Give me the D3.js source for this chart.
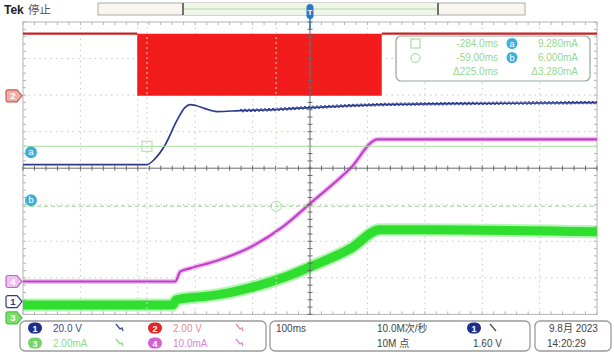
<!DOCTYPE html>
<html><head><meta charset="utf-8">
<script src="https://cdn.jsdelivr.net/npm/d3@7"></script>
<style>
html,body{margin:0;padding:0;background:#fff;}
svg{display:block;font-family:"Liberation Sans","DejaVu Sans",Arial,sans-serif;}
</style></head><body>
<svg id="scope" width="614" height="358"></svg>
<script>
// ---- acquisition data (time in ms relative to trigger) ----
const ch1Time  = [-500,-284,-270,-253,-232,-218,-209,-199,-183,-162,-122,-64,0,122,244,500];
const ch1Volts = [75.0,75.0,78.2,85.4,99.0,106.2,107.8,107.3,105.6,104.0,104.5,105.1,106.2,107.8,108.3,108.9];

// CH2: gate drive, high level with a dense PWM burst
const ch2High = 3.4;               // V
const ch2Burst = [-301, 125];      // ms, start / end of switching burst
const ch2Idle = [[-500,-301],[125,500]];

const ch3Time = [-500,-239,-233,-192,-162,-105,-47,0,70,122,192,500];
const ch3mA   = [0.60,0.60,0.88,1.04,1.15,1.53,2.08,2.68,3.67,4.71,4.71,4.60];

const ch4Time = [-500,-235,-226,-209,-162,-105,-47,0,70,118,500];
const ch4mA   = [0,0,2.7,3.6,5.7,9.3,15.0,21.3,30.9,38.9,38.9];

// cursors (time cursors in ms, level cursors on CH3 in mA)
const cursorTimes  = [-284, -59];
const cursorLevels = [9.28, 6.0];

// vertical settings per channel: volts-or-amps per division, zero position in divisions
const chScale  = [20, 2, 2, 10];
const chUnit   = ["V", "V", "mA", "mA"];
const chOffset = [-3.65, 1.98, -4.04, -3.10];

const timePerDiv = 100;           // ms
const sampleRate = "10.0M次/秒";
const recordLen  = "10M 点";
const trigLevel  = 1.60;
const dateText = "9.8月 2023", timeText = "14:20:29";

// ---- layout ----
const svg = d3.select("#scope");
const L = 23, R = 597, T = 22, B = 314.4;
const x = d3.scaleLinear().domain([-5*timePerDiv, 5*timePerDiv]).range([L, R]);
const yDiv = d3.scaleLinear().domain([-4, 4]).range([B, T]);
const yCh = i => v => yDiv(chOffset[i] + v / chScale[i]);
const y1 = yCh(0), y2 = yCh(1), y3 = yCh(2), y4 = yCh(3);

// ---- top bar ----
svg.append("text").attr("x", 4).attr("y", 14).attr("font-size", 12).attr("font-weight", "bold")
  .attr("fill", "#222").text("Tek");
svg.append("text").attr("x", 28).attr("y", 14).attr("font-size", 11.5).attr("fill", "#555")
  .attr("font-family", "Noto Sans CJK SC").text("停止");
svg.append("rect").attr("x", 98).attr("y", 3).attr("width", 427).attr("height", 12)
  .attr("fill", "#f8f6ee").attr("stroke", "#aaa");
svg.append("rect").attr("x", 183).attr("y", 3).attr("width", 255).attr("height", 12)
  .attr("fill", "#eef6e8").attr("stroke", "none");
svg.append("line").attr("x1", 184).attr("x2", 437).attr("y1", 9).attr("y2", 9)
  .attr("stroke", "#b8d8a8").attr("stroke-width", 1);
[183, 438].forEach(px => svg.append("line").attr("x1", px).attr("x2", px).attr("y1", 3).attr("y2", 15)
  .attr("stroke", "#444").attr("stroke-width", 1.5));

// ---- graticule ----
const g = svg.append("g");
g.append("rect").attr("x", L).attr("y", T).attr("width", R - L).attr("height", B - T)
  .attr("fill", "#fff").attr("stroke", "#b4b4b4");
const grid = g.append("g").attr("stroke", "#c6c6c6").attr("stroke-dasharray", "1.5,4");
d3.range(-4, 5).filter(d => d !== 0).forEach(d => {
  grid.append("line").attr("x1", x(d * timePerDiv)).attr("x2", x(d * timePerDiv)).attr("y1", T).attr("y2", B);
});
d3.range(-3, 4).filter(d => d !== 0).forEach(d => {
  grid.append("line").attr("x1", L).attr("x2", R).attr("y1", yDiv(d)).attr("y2", yDiv(d));
});
// edge minor ticks
const edge = g.append("g").attr("stroke", "#b4b4b4");
d3.range(-5, 5.01, 0.2).forEach(d => {
  const px = x(d * timePerDiv);
  edge.append("line").attr("x1", px).attr("x2", px).attr("y1", T).attr("y2", T + 3);
  edge.append("line").attr("x1", px).attr("x2", px).attr("y1", B).attr("y2", B - 3);
});
d3.range(-4, 4.01, 0.2).forEach(d => {
  const py = yDiv(d);
  edge.append("line").attr("x1", L).attr("x2", L + 3).attr("y1", py).attr("y2", py);
  edge.append("line").attr("x1", R).attr("x2", R - 3).attr("y1", py).attr("y2", py);
});

// ---- traces ----
const tr = svg.append("g");
const line = (yf) => d3.line().x(d => x(d[0])).y(d => yf(d[1])).curve(d3.curveMonotoneX);
const zip = (a, b) => a.map((v, i) => [v, b[i]]);

// CH2: idle level plus switching burst
tr.append("path").datum([{t: ch2Burst[0]}, {t: ch2Burst[1]}])
  .attr("d", d3.area().x(d => x(d.t)).y0(y2(0)).y1(y2(ch2High)))
  .attr("fill", "#f21c1c");
ch2Idle.forEach(seg => {
  tr.append("path").datum(seg.map(t => [t, ch2High]))
    .attr("d", line(y2)).attr("fill", "none").attr("stroke", "#c42424").attr("stroke-width", 2.2);
});

// CH3: noisy current band
const ch3 = zip(ch3Time, ch3mA);
tr.append("path").datum(ch3).attr("d", line(y3)).attr("fill", "none")
  .attr("stroke", "#5ee85a").attr("stroke-opacity", 0.45).attr("stroke-width", 13);
tr.append("path").datum(ch3).attr("d", line(y3)).attr("fill", "none")
  .attr("stroke", "#2fde2f").attr("stroke-width", 9);

// CH4
const ch4 = zip(ch4Time, ch4mA);
tr.append("path").datum(ch4).attr("d", line(y4)).attr("fill", "none")
  .attr("stroke", "#eaa6ec").attr("stroke-opacity", 0.7).attr("stroke-width", 5);
tr.append("path").datum(ch4).attr("d", line(y4)).attr("fill", "none")
  .attr("stroke", "#c040c8").attr("stroke-width", 2.2);

// CH1 with fine ripple on the regulated part
const ch1 = zip(ch1Time, ch1Volts);
tr.append("path").datum(ch1).attr("d", line(y1)).attr("fill", "none")
  .attr("stroke", "#2b3a8c").attr("stroke-width", 1.7);
const ripple = ch1.filter(d => d[0] >= -122);
[-1.1, 1.1].forEach((dy, i) => {
  tr.append("path").datum(ripple).attr("d", line(y1)).attr("fill", "none")
    .attr("transform", `translate(0,${dy})`)
    .attr("stroke", "#3a4a9c").attr("stroke-width", 1.1)
    .attr("stroke-dasharray", "2,2").attr("stroke-dashoffset", i * 2);
});

// ---- centre cross and cursors over the traces ----
const cx = x(0), cy = yDiv(0);
const cross = svg.append("g").attr("stroke", "#6a6a6a");
cross.append("line").attr("x1", cx).attr("x2", cx).attr("y1", T).attr("y2", B);
cross.append("line").attr("x1", L).attr("x2", R).attr("y1", cy).attr("y2", cy);
d3.range(-5, 5.01, 0.2).forEach(d => {
  const px = x(d * timePerDiv);
  cross.append("line").attr("x1", px).attr("x2", px).attr("y1", cy - 2.5).attr("y2", cy + 2.5);
});
d3.range(-4, 4.01, 0.2).forEach(d => {
  const py = yDiv(d);
  cross.append("line").attr("x1", cx - 2.5).attr("x2", cx + 2.5).attr("y1", py).attr("y2", py);
});

const cur = svg.append("g");
cursorTimes.forEach(t => {
  cur.append("line").attr("x1", x(t)).attr("x2", x(t)).attr("y1", T).attr("y2", B)
    .attr("stroke", "#c8dcc4").attr("stroke-dasharray", "2,3");
});
cur.append("line").attr("x1", L).attr("x2", R).attr("y1", y3(cursorLevels[0])).attr("y2", y3(cursorLevels[0]))
  .attr("stroke", "#a4e09c").attr("stroke-width", 1);
cur.append("line").attr("x1", L).attr("x2", R).attr("y1", y3(cursorLevels[1])).attr("y2", y3(cursorLevels[1]))
  .attr("stroke", "#94d48c").attr("stroke-width", 1).attr("stroke-dasharray", "4,3");
cur.append("rect").attr("x", x(cursorTimes[0]) - 5).attr("y", y3(cursorLevels[0]) - 5)
  .attr("width", 10).attr("height", 10).attr("fill", "none").attr("stroke", "#a4e09c");
cur.append("circle").attr("cx", x(cursorTimes[1])).attr("cy", y3(cursorLevels[1])).attr("r", 5)
  .attr("fill", "none").attr("stroke", "#a4e09c");

// trigger position marker
svg.append("line").attr("x1", cx).attr("x2", cx).attr("y1", 12).attr("y2", 30)
  .attr("stroke", "#2a78d0").attr("stroke-width", 1.5);
svg.append("rect").attr("x", cx - 3.5).attr("y", 4).attr("width", 7).attr("height", 15).attr("rx", 3.5)
  .attr("fill", "#2a78d0");
svg.append("text").attr("x", cx).attr("y", 15).attr("text-anchor", "middle").attr("font-size", 8)
  .attr("font-weight", "bold").attr("fill", "#fff").text("T");

// ---- cursor readout ----
const fmt = v => v.toPrecision(4);
const rb = svg.append("g");
rb.append("rect").attr("x", 396).attr("y", 36).attr("width", 194).attr("height", 45).attr("rx", 5)
  .attr("fill", "#fff").attr("fill-opacity", 0.9).attr("stroke", "#8fa898").attr("stroke-width", 1.2);
const rc = "#96d890";
rb.append("rect").attr("x", 411).attr("y", 39).attr("width", 9).attr("height", 9).attr("fill", "none").attr("stroke", rc);
rb.append("circle").attr("cx", 415.5).attr("cy", 58).attr("r", 4.5).attr("fill", "none").attr("stroke", rc);
const rowY = [47, 61, 75];
const rt = (px, py, s) => rb.append("text").attr("x", px).attr("y", py).attr("text-anchor", "end")
  .attr("font-size", 10).attr("fill", rc).text(s);
rt(498, rowY[0], fmt(cursorTimes[0]) + "ms");
rt(498, rowY[1], fmt(cursorTimes[1]) + "ms");
rt(498, rowY[2], "Δ" + fmt(cursorTimes[1] - cursorTimes[0]) + "ms");
rt(578, rowY[0], fmt(cursorLevels[0]) + "mA");
rt(578, rowY[1], fmt(cursorLevels[1]) + "mA");
rt(578, rowY[2], "Δ" + fmt(cursorLevels[0] - cursorLevels[1]) + "mA");
["a", "b"].forEach((s, i) => {
  rb.append("circle").attr("cx", 512).attr("cy", rowY[i] - 3.5).attr("r", 5.5).attr("fill", "#3fb0da");
  rb.append("text").attr("x", 512).attr("y", rowY[i] - 0.5).attr("text-anchor", "middle")
    .attr("font-size", 9).attr("fill", "#fff").text(s);
});

// ---- left edge markers ----
const mk = svg.append("g");
function tag(py, label, fill, stroke, txt) {
  mk.append("path").attr("d", `M8,${py-6}h9l5,6l-5,6h-9a2,2 0 0 1 -2,-2v-8a2,2 0 0 1 2,-2z`)
    .attr("fill", fill).attr("stroke", stroke).attr("stroke-width", 1.2);
  mk.append("text").attr("x", 13).attr("y", py + 3.5).attr("text-anchor", "middle")
    .attr("font-size", 9.5).attr("font-weight", "bold").attr("fill", txt).text(label);
}
tag(y2(0), "2", "#eeb0a6", "#cc5a50", "#fff");
tag(y4(0), "4", "#efc0ef", "#b86cc4", "#fff");
tag(y1(0), "1", "#fff", "#2b3a8c", "#2b3a8c");
tag(y3(0) + 2, "3", "#7ddc6a", "#4cc040", "#fff");
["a", "b"].forEach((s, i) => {
  const py = y3(cursorLevels[i]) + (i === 0 ? 6 : -6);
  mk.append("circle").attr("cx", 31).attr("cy", py).attr("r", 6).attr("fill", "#3fb0da");
  mk.append("text").attr("x", 31).attr("y", py + 3).attr("text-anchor", "middle")
    .attr("font-size", 9).attr("fill", "#fff").text(s);
});

// ---- status bar ----
const sb = svg.append("g");
[[20, 246], [270, 260], [535, 76]].forEach(([bx, bw]) => {
  sb.append("rect").attr("x", bx).attr("y", 321).attr("width", bw).attr("height", 30).attr("rx", 5)
    .attr("fill", "#fff").attr("stroke", "#9a9a9a").attr("stroke-width", 1.3);
});
const rowsY = [328, 343];
const pill = (px, py, col, s) => {
  sb.append("rect").attr("x", px - 7).attr("y", py - 5.5).attr("width", 14).attr("height", 11).attr("rx", 5.5)
    .attr("fill", col);
  sb.append("text").attr("x", px).attr("y", py + 3.5).attr("text-anchor", "middle").attr("font-size", 9)
    .attr("font-weight", "bold").attr("fill", "#fff").text(s);
};
const chTextColor = ["#3a4a8a", "#ee8a8a", "#8ed88a", "#d884d8"];
const chPillColor = ["#1c2f8c", "#e02828", "#74d468", "#d462d4"];
const bwIcon = (px, py, col) => {
  sb.append("path").attr("d", `M${px-3},${py-4}l4,5l2,-1l1,3`).attr("fill", "none")
    .attr("stroke", col).attr("stroke-width", 1.3);
};
[0, 1, 2, 3].forEach(i => {
  const col = i % 2, row = Math.floor(i / 2);
  const bx = col === 0 ? 35 : 155, py = rowsY[row];
  pill(bx, py, chPillColor[i], String(i + 1));
  const sep = chUnit[i] === "V" ? " " : "";
  sb.append("text").attr("x", bx + 18).attr("y", py + 3.5).attr("font-size", 10).attr("fill", chTextColor[i])
    .text(chScale[i].toPrecision(3) + sep + chUnit[i]);
  bwIcon(bx + 84, py, chTextColor[i]);
});
const st = (px, py, s, anchor) => sb.append("text").attr("x", px).attr("y", py + 3.5).attr("font-size", 10)
  .attr("fill", "#444").attr("text-anchor", anchor || "start").attr("font-family", "\"Liberation Sans\",\"Noto Sans CJK SC\",sans-serif").text(s);
st(276, rowsY[0], timePerDiv + "ms");
st(377, rowsY[0], sampleRate);
st(377, rowsY[1], recordLen);
pill(474, rowsY[0], chPillColor[0], "1");
sb.append("line").attr("x1", 490).attr("x2", 496).attr("y1", rowsY[0] - 4).attr("y2", rowsY[0] + 3)
  .attr("stroke", "#444").attr("stroke-width", 1.2);
st(473, rowsY[1], trigLevel.toFixed(2) + " V");
st(549, rowsY[0], dateText);
st(547, rowsY[1], timeText);
</script>
</body></html>
